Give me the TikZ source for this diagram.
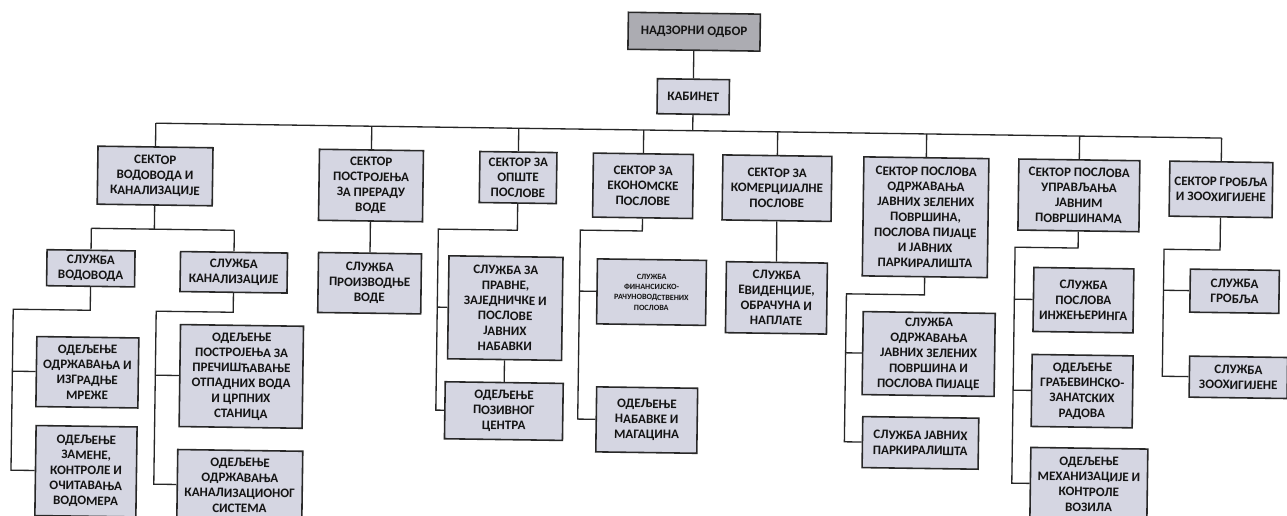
\documentclass[tikz,border=0pt]{standalone}
\usepackage{fontspec}
\setmainfont{Carlito}

\definecolor{boxfill}{RGB}{213,214,226}
\definecolor{topfill}{RGB}{172,172,178}
\definecolor{boxline}{RGB}{40,40,40}

\tikzset{
  sz/.style 2 args={minimum width=#1*0.02cm, minimum height=#2*0.02cm},
  orgbox/.style={draw=boxline, line width=0.9pt, fill=boxfill, align=center, inner sep=1pt,
    text=black!92, font=\fontsize{7.4}{8.7}\selectfont\bfseries},
  link/.style={line width=0.75pt, draw=black!85},
}

\begin{document}
\begin{tikzpicture}[x=0.02cm, y=-0.02cm]

\path[use as bounding box, fill=white] (0,0) rectangle (1287,515);
\clip (0,0) rectangle (1287,515);

\begin{scope}[rotate around={-0.8:(643,257)}, transform shape]

% top
\node[orgbox, fill=topfill, sz={132}{37}] (nadzor) at (691,31) {НАДЗОРНИ ОДБОР};
\node[orgbox, sz={72}{35}] (kabinet) at (691,96) {КАБИНЕТ};

% sectors
\node[orgbox, sz={115}{58}, anchor=north] (s1) at (154,153) {СЕКТОР\\ВОДОВОДА И\\КАНАЛИЗАЦИЈЕ};
\node[orgbox, sz={104}{71}, anchor=north] (s2) at (370,153) {СЕКТОР\\ПОСТРОЈЕЊА\\ЗА ПРЕРАДУ\\ВОДЕ};
\node[orgbox, sz={77}{51}, anchor=north] (s3) at (517,153) {СЕКТОР ЗА\\ОПШТЕ\\ПОСЛОВЕ};
\node[orgbox, sz={100}{64}, anchor=north] (s4) at (642,153) {СЕКТОР ЗА\\ЕКОНОМСКЕ\\ПОСЛОВЕ};
\node[orgbox, sz={109}{65}, anchor=north] (s5) at (776,153) {СЕКТОР ЗА\\КОМЕРЦИЈАЛНЕ\\ПОСЛОВЕ};
\node[orgbox, sz={125}{119}, anchor=north] (s6) at (925,153) {СЕКТОР ПОСЛОВА\\ОДРЖАВАЊА\\ЈАВНИХ ЗЕЛЕНИХ\\ПОВРШИНА,\\ПОСЛОВА ПИЈАЦЕ\\И ЈАВНИХ\\ПАРКИРАЛИШТА};
\node[orgbox, sz={121}{71}, anchor=north] (s7) at (1078,153) {СЕКТОР ПОСЛОВА\\УПРАВЉАЊА\\ЈАВНИМ\\ПОВРШИНАМА};
\node[orgbox, sz={103}{55}, anchor=north] (s8) at (1220,153) {СЕКТОР ГРОБЉА\\И ЗООХИГИЈЕНЕ};

% vodovod i kanalizacija
\node[orgbox, sz={88}{36}] (v1) at (91,276) {СЛУЖБА\\ВОДОВОДА};
\node[orgbox, sz={107}{40}] (k1) at (234,278) {СЛУЖБА\\КАНАЛИЗАЦИЈЕ};
\node[orgbox, sz={102}{70}] (o1) at (89,380) {ОДЕЉЕЊЕ\\ОДРЖАВАЊА И\\ИЗГРАДЊЕ\\МРЕЖЕ};
\node[orgbox, sz={101}{90}] (o2) at (89,479) {ОДЕЉЕЊЕ\\ЗАМЕНЕ,\\КОНТРОЛЕ И\\ОЧИТАВАЊА\\ВОДОМЕРА};
\node[orgbox, sz={123}{102}] (o3) at (243,382) {ОДЕЉЕЊЕ\\ПОСТРОЈЕЊА ЗА\\ПРЕЧИШЋАВАЊЕ\\ОТПАДНИХ ВОДА\\И ЦРПНИХ\\СТАНИЦА};
\node[orgbox, sz={125}{70}] (o4) at (243,491) {ОДЕЉЕЊЕ\\ОДРЖАВАЊА\\КАНАЛИЗАЦИОНОГ\\СИСТЕМА};

% prerada vode
\node[orgbox, sz={103}{60}] (p1) at (370,287) {СЛУЖБА\\ПРОИЗВОДЊЕ\\ВОДЕ};

% opsti poslovi
\node[orgbox, sz={114}{103}] (pr1) at (506,310) {СЛУЖБА ЗА\\ПРАВНЕ,\\ЗАЈЕДНИЧКЕ И\\ПОСЛОВЕ\\ЈАВНИХ\\НАБАВКИ};
\node[orgbox, sz={118}{57}] (pc) at (506,413) {ОДЕЉЕЊЕ\\ПОЗИВНОГ\\ЦЕНТРА};

% ekonomski poslovi
\node[orgbox, sz={109}{65}, font=\fontsize{4.6}{5.9}\selectfont\bfseries] (fin) at (652,292) {СЛУЖБА\\ФИНАНСИЈСКО-\\РАЧУНОВОДСТВЕНИХ\\ПОСЛОВА};
\node[orgbox, sz={101}{65}] (nab) at (649,420) {ОДЕЉЕЊЕ\\НАБАВКЕ И\\МАГАЦИНА};

% komercijalni poslovi
\node[orgbox, sz={101}{71}] (ev) at (777,296) {СЛУЖБА\\ЕВИДЕНЦИЈЕ,\\ОБРАЧУНА И\\НАПЛАТЕ};

% zelene povrsine
\node[orgbox, sz={132}{83}] (zel) at (930,350) {СЛУЖБА\\ОДРЖАВАЊА\\ЈАВНИХ ЗЕЛЕНИХ\\ПОВРШИНА И\\ПОСЛОВА ПИЈАЦЕ};
\node[orgbox, sz={116}{51}] (park) at (923,439) {СЛУЖБА ЈАВНИХ\\ПАРКИРАЛИШТА};

% javne povrsine
\node[orgbox, sz={100}{64}] (inz) at (1084,294) {СЛУЖБА\\ПОСЛОВА\\ИНЖЕЊЕРИНГА};
\node[orgbox, sz={101}{72}] (gra) at (1084,385) {ОДЕЉЕЊЕ\\ГРАЂЕВИНСКО-\\ЗАНАТСКИХ\\РАДОВА};
\node[orgbox, sz={117}{72}] (meh) at (1092,478) {ОДЕЉЕЊЕ\\МЕХАНИЗАЦИЈЕ И\\КОНТРОЛЕ\\ВОЗИЛА};

% groblja
\node[orgbox, sz={89}{43}] (grob) at (1235,283) {СЛУЖБА\\ГРОБЉА};
\node[orgbox, sz={98}{41}] (zoo) at (1240,369) {СЛУЖБА\\ЗООХИГИЈЕНЕ};

% links
\coordinate (busL) at (154,130);
\coordinate (busR) at (1220,130);
\draw[link] (nadzor) -- (kabinet);
\draw[link] (kabinet.south) -- (kabinet.south |- busL);
\draw[link] (busL) -- (busR);
\foreach \s in {s1,s2,s3,s4,s5,s6,s7,s8}
  \draw[link] (\s.north) -- (\s.north |- busL);

\coordinate (s1j) at (154,236);
\draw[link] (s1.south) -- (s1j);
\draw[link] (v1.north |- s1j) -- (k1.north |- s1j);
\draw[link] (v1.north |- s1j) -- (v1.north);
\draw[link] (k1.north |- s1j) -- (k1.north);

\coordinate (v1j) at (14,318);
\draw[link] (v1.south) |- (v1j) |- (o2.west);
\draw[link] (v1j |- o1.west) -- (o1.west);
\coordinate (k1j) at (157,318);
\draw[link] (k1.south) |- (k1j) |- (o4.west);
\draw[link] (k1j |- o3.west) -- (o3.west);

\draw[link] (s2) -- (p1);

\coordinate (s3j) at (438,232);
\draw[link] (s3.south) |- (s3j) |- (pc.west);
\draw[link] (s3j |- pr1.west) -- (pr1.west);
\draw[link] (pr1) -- (pc);

\coordinate (s4j) at (580,231);
\draw[link] (s4.south) |- (s4j) |- (nab.west);
\draw[link] (s4j |- fin.west) -- (fin.west);

\draw[link] (s5) -- (ev);

\coordinate (s6j) at (847,291);
\draw[link] (s6.south) |- (s6j) |- (park.west);
\draw[link] (s6j |- zel.west) -- (zel.west);

\coordinate (s7j) at (1015,242);
\draw[link] (s7.south) |- (s7j) |- (meh.west);
\draw[link] (s7j |- inz.west) -- (inz.west);
\draw[link] (s7j |- gra.west) -- (gra.west);

\coordinate (s8j) at (1164,242);
\draw[link] (s8.south) |- (s8j) |- (zoo.west);
\draw[link] (s8j |- grob.west) -- (grob.west);

\end{scope}
\end{tikzpicture}
\end{document}
